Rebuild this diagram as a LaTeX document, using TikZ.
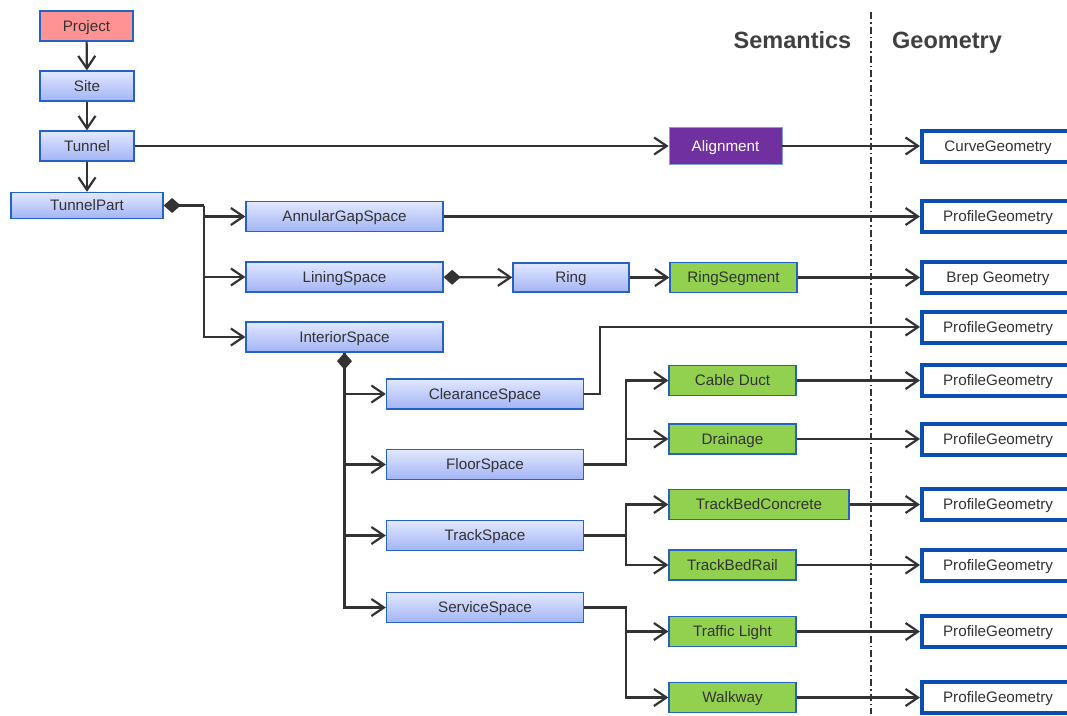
\documentclass[tikz,border=0pt]{standalone}
\usepackage{fontspec}
\setmainfont{Liberation Sans}
\usetikzlibrary{arrows.meta}
\definecolor{bordblue}{HTML}{2462C4}
\definecolor{bluetop}{HTML}{E2E8FF}
\definecolor{bluebot}{HTML}{A2B4F4}
\definecolor{projred}{HTML}{FF9292}
\definecolor{semgreen}{HTML}{92D050}
\definecolor{alignpurple}{HTML}{7030A0}
\definecolor{geoblue}{HTML}{0B4DB0}
\definecolor{linec}{HTML}{333333}
\definecolor{txt}{HTML}{333333}
\definecolor{headc}{HTML}{404040}
\begin{document}
\begin{tikzpicture}[x=1pt,y=-1pt,
  box/.style={draw=bordblue, line width=1.3pt, minimum height=30pt, inner sep=0pt, text=txt, font=\fontsize{15.2}{18}\selectfont, text height=10.9pt, text depth=0pt},
  sem/.style={box, top color=bluetop, bottom color=bluebot},
  proj/.style={box, fill=projred},
  grn/.style={box, fill=semgreen},
  geo/.style={draw=geoblue, line width=4pt, fill=white, minimum width=152pt, minimum height=31pt, inner sep=0pt, text=txt, font=\fontsize{15.2}{18}\selectfont, text height=10.9pt, text depth=0pt},
  head/.style={font=\bfseries\fontsize{23.5}{28}\selectfont, text=headc, inner sep=0pt, text height=16.9pt, text depth=0pt},
  conn/.style={draw=linec, line width=2.2pt},
  arr/.style={conn, -{Straight Barb[length=12.5pt,width=17pt]}},
  dia/.style={conn, {Diamond[length=17pt,width=15pt]}-},
  diaarr/.style={conn, {Diamond[length=17pt,width=15pt]}-{Straight Barb[length=12.5pt,width=17pt]}},
  sep/.style={draw=linec, line width=1.5pt, dash pattern=on 7pt off 3pt on 1.5pt off 3pt}
]
\useasboundingbox (0,0) rectangle (1067,715);

% headings and separator
\node[head] (hsem) at (792.5,40) {Semantics};
\node[head] (hgeo) at (947,40) {Geometry};
\coordinate (septop) at (871,12);
\coordinate (sepbot) at (871,714);
\draw[sep] (septop) -- (sepbot);

% left hierarchy
\node[proj, minimum width=93pt] (Project) at (86.5,26) {Project};
\node[sem, minimum width=94pt] (Site) at (87,86) {Site};
\node[sem, minimum width=94pt] (Tunnel) at (87,146) {Tunnel};
\node[sem, minimum width=152pt, minimum height=26pt] (TunnelPart) at (87,205.5) {TunnelPart};

\node[sem, minimum width=197pt] (Annular) at (344.5,216.5) {AnnularGapSpace};
\node[sem, minimum width=197pt] (Lining) at (344.5,277) {LiningSpace};
\node[sem, minimum width=197pt] (Interior) at (344.5,337) {InteriorSpace};

\node[sem, minimum width=116pt, minimum height=29pt] (Ring) at (571,277.5) {Ring};
\node[grn, minimum width=127pt] (RingSegment) at (733.5,277.5) {RingSegment};
\node[box, fill=alignpurple, draw=bordblue!60, line width=0.8pt, text=white, minimum width=113pt, minimum height=37pt] (Alignment) at (725.5,146) {Alignment};

\node[sem, minimum width=197pt] (Clearance) at (485,394) {ClearanceSpace};
\node[sem, minimum width=197pt] (Floor) at (485,464.5) {FloorSpace};
\node[sem, minimum width=197pt] (Track) at (485,535.5) {TrackSpace};
\node[sem, minimum width=197pt] (Service) at (485,607.5) {ServiceSpace};

\node[grn, minimum width=127pt] (CableDuct) at (732.5,380.5) {Cable Duct};
\node[grn, minimum width=127pt] (Drainage) at (732.5,439) {Drainage};
\node[grn, minimum width=180pt] (TBConcrete) at (759,504.5) {TrackBedConcrete};
\node[grn, minimum width=127pt] (TBRail) at (732.5,565) {TrackBedRail};
\node[grn, minimum width=127pt] (Traffic) at (732.5,631.5) {Traffic Light};
\node[grn, minimum width=127pt] (Walkway) at (732.5,697.5) {Walkway};

% geometry
\node[geo] (G0) at (998,146) {CurveGeometry};
\node[geo] (G1) at (998,216.5) {ProfileGeometry};
\node[geo] (G2) at (998,277.5) {Brep Geometry};
\node[geo] (G3) at (998,327) {ProfileGeometry};
\node[geo] (G4) at (998,380.5) {ProfileGeometry};
\node[geo] (G5) at (998,439) {ProfileGeometry};
\node[geo] (G6) at (998,504.5) {ProfileGeometry};
\node[geo] (G7) at (998,565) {ProfileGeometry};
\node[geo] (G8) at (998,631.5) {ProfileGeometry};
\node[geo] (G9) at (998,697.5) {ProfileGeometry};

% connectors - hierarchy
\draw[arr] (Project) -- (Site);
\draw[arr] (Site) -- (Tunnel);
\draw[arr] (Tunnel) -- (TunnelPart);
\draw[arr] (Tunnel) -- (Alignment);
\draw[arr] (Alignment) -- (G0);

\coordinate (tpj) at (204,205.5);
\draw[dia] (TunnelPart.east) -- (tpj);
\draw[arr] (tpj) |- (Annular.west);
\draw[arr] (tpj) |- (Lining.west);
\draw[arr] (tpj) |- (Interior.west);

\draw[arr] (Annular) -- (G1);
\draw[diaarr] (Lining) -- (Ring);
\draw[arr] (Ring) -- (RingSegment);
\draw[arr] (RingSegment) -- (G2);

\draw[diaarr] (Interior.south) |- (Clearance.west);
\draw[arr] (Interior.south) |- (Floor.west);
\draw[arr] (Interior.south) |- (Track.west);
\draw[arr] (Interior.south) |- (Service.west);

\coordinate (cj) at (600,394);
\draw[arr] (Clearance.east) -- (cj) |- (G3.west);

\coordinate (fj) at (626,464.5);
\draw[arr] (Floor.east) -- (fj) |- (CableDuct.west);
\draw[arr] (fj) |- (Drainage.west);

\coordinate (tj) at (626,535.5);
\draw[arr] (Track.east) -- (tj) |- (TBConcrete.west);
\draw[arr] (tj) |- (TBRail.west);

\coordinate (sj) at (626,607.5);
\draw[arr] (Service.east) -- (sj) |- (Traffic.west);
\draw[arr] (sj) |- (Walkway.west);

\draw[arr] (CableDuct) -- (G4);
\draw[arr] (Drainage) -- (G5);
\draw[arr] (TBConcrete) -- (G6);
\draw[arr] (TBRail) -- (G7);
\draw[arr] (Traffic) -- (G8);
\draw[arr] (Walkway) -- (G9);
\end{tikzpicture}
\end{document}
